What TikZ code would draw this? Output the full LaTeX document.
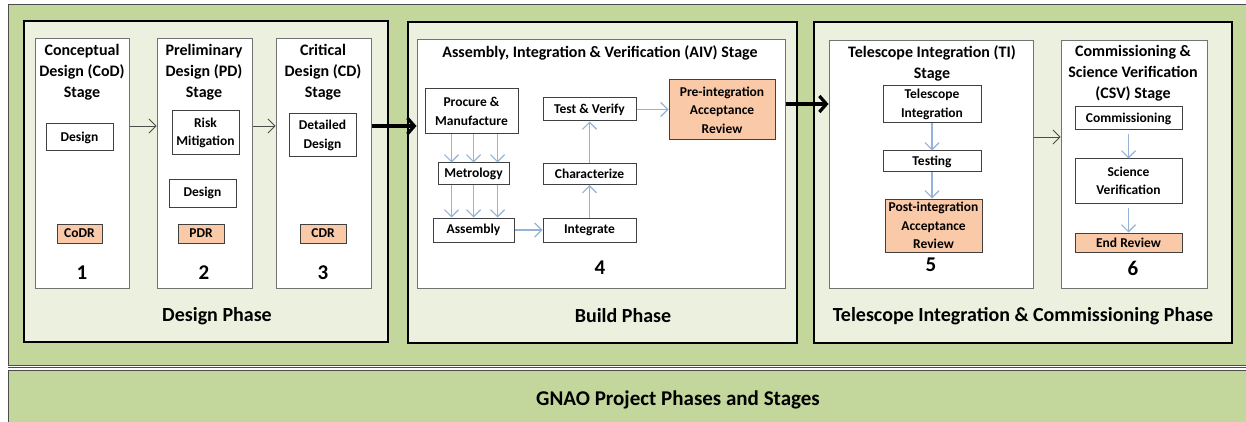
\documentclass[tikz,border=0pt]{standalone}
\usepackage{fontspec}
\setmainfont{Carlito}
\usetikzlibrary{arrows.meta}
\definecolor{bandgreen}{HTML}{C3D69B}
\definecolor{phasefill}{HTML}{EBF1DE}
\definecolor{reviewfill}{HTML}{FAC9A8}
\definecolor{flowblue}{HTML}{95B3D7}
\newcommand{\tasksize}{\fontsize{13.5}{18.5}\selectfont\bfseries}
\newcommand{\stagesize}{\fontsize{16}{21}\selectfont\bfseries}
\newcommand{\phasesize}{\fontsize{20}{24}\selectfont\bfseries}
\newcommand{\numsize}{\fontsize{21}{25}\selectfont\bfseries}
\begin{document}
\begin{tikzpicture}[x=1pt,y=-1pt,%
% common options for the phase frames:
phase/.style = {draw, line width=1.6pt, fill=phasefill, inner sep=0},
% common options for the stage columns:
stage/.style = {draw=black!55, line width=1pt, fill=white, inner sep=0},
% boxes inside a stage, reviews in orange:
task/.style = {draw=black!75, line width=1pt, fill=white, align=center,
            inner sep=0, font=\tasksize},
review/.style = {task, fill=reviewfill},
title/.style = {align=center, inner sep=0, font=\stagesize},
phaselbl/.style = {inner sep=0, font=\phasesize},
bignum/.style = {inner sep=0, font=\numsize},
% arrows:
flow/.style = {draw=flowblue, line width=1.2pt, -{Straight Barb[length=7pt,width=14pt]}},
stepto/.style = {draw=black!70, line width=0.8pt, -{Straight Barb[length=7pt,width=14pt]}},
bigto/.style = {draw=black, line width=3.2pt, -{Straight Barb[length=7pt,width=16pt]}}]
\useasboundingbox (0,0) rectangle (1246,422);
% green backdrop and bottom band
\draw[fill=bandgreen, draw=black!70, line width=1pt] (8,5) rectangle (1252,365);
\draw[fill=bandgreen, draw=black!70, line width=1pt] (8,370) rectangle (1252,430);
\draw[black!70, line width=0.8pt] (8,367.5) -- (1252,367.5);
\node[bignum] (project) at (678,400) {GNAO Project Phases and Stages};
% phases
\node[phase, minimum width=364pt, minimum height=321pt] (design) at (206,181.5) {};
\node[phase, minimum width=389pt, minimum height=321pt] (build) at (602.5,182.5) {};
\node[phase, minimum width=418pt, minimum height=321pt] (tic) at (1023,182.5) {};
\node[phaselbl] (designlbl) at (217,316) {Design Phase};
\node[phaselbl] (buildlbl) at (623,316) {Build Phase};
\node[phaselbl] (ticlbl) at (1023,316) {Telescope Integration \& Commissioning Phase};
% stages
\node[stage, minimum width=94pt, minimum height=249pt] (cod) at (82,163.5) {};
\node[stage, minimum width=95pt, minimum height=249pt] (pd) at (204.5,163.5) {};
\node[stage, minimum width=95pt, minimum height=249pt] (cd) at (323.5,163.5) {};
\node[stage, minimum width=368pt, minimum height=248pt] (aiv) at (601,164) {};
\node[stage, minimum width=204pt, minimum height=247pt] (ti) at (931,164.5) {};
\node[stage, minimum width=146pt, minimum height=247pt] (csv) at (1134,164.5) {};
\node[title] (codtitle) at (82,72) {Conceptual\\Design (CoD)\\Stage};
\node[title] (pdtitle) at (204,72) {Preliminary\\Design (PD)\\Stage};
\node[title] (cdtitle) at (323,72) {Critical\\Design (CD)\\Stage};
\node[title] (aivtitle) at (600,53) {Assembly, Integration \& Verification (AIV) Stage};
\node[title] (tititle) at (932,63) {Telescope Integration (TI)\\Stage};
\node[title] (csvtitle) at (1133,73) {Commissioning \&\\Science Verification\\(CSV) Stage};
\node[bignum] (num1) at (82,273) {1};
\node[bignum] (num2) at (204,273) {2};
\node[bignum] (num3) at (323,273) {3};
\node[bignum] (num4) at (600,268) {4};
\node[bignum] (num5) at (931,265) {5};
\node[bignum] (num6) at (1133,268) {6};
% design phase boxes
\node[task, minimum width=67pt, minimum height=27pt] (coddesign) at (79.5,137.5) {Design};
\node[task, minimum width=67pt, minimum height=44pt] (risk) at (205.5,133) {Risk\\Mitigation};
\node[task, minimum width=67pt, minimum height=28pt] (pddesign) at (202.5,193) {Design};
\node[task, minimum width=67pt, minimum height=43pt] (detailed) at (322.5,135.5) {Detailed\\Design};
\node[review, minimum width=45pt, minimum height=19pt] (codr) at (79.5,233.5) {CoDR};
\node[review, minimum width=46pt, minimum height=19pt] (pdr) at (201,233.5) {PDR};
\node[review, minimum width=46pt, minimum height=19pt] (cdr) at (323,233.5) {CDR};
% build phase boxes
\node[task, minimum width=93pt, minimum height=45pt] (procure) at (471.5,111.5) {Procure \&\\Manufacture};
\node[task, minimum width=71pt, minimum height=21pt] (metrology) at (473.5,173.5) {Metrology};
\node[task, minimum width=81pt, minimum height=24pt] (assembly) at (473.5,230) {Assembly};
\node[task, minimum width=93pt, minimum height=24pt] (integrate) at (589.5,230) {Integrate};
\node[task, minimum width=93pt, minimum height=21pt] (characterize) at (589.5,174) {Characterize};
\node[task, minimum width=93pt, minimum height=23pt] (testverify) at (589.5,109.5) {Test \& Verify};
\node[review, minimum width=106pt, minimum height=60pt] (preaccept) at (722,110) {Pre-integration\\Acceptance\\Review};
% integration and commissioning boxes
\node[task, minimum width=98pt, minimum height=37pt] (teleint) at (932,104.5) {Telescope\\Integration};
\node[task, minimum width=98pt, minimum height=21pt] (testing) at (932,161.5) {Testing};
\node[review, minimum width=97pt, minimum height=53pt] (postaccept) at (933.5,225.5) {Post-integration\\Acceptance\\Review};
\node[task, minimum width=107pt, minimum height=23pt] (commission) at (1128.5,118.5) {Commissioning};
\node[task, minimum width=107pt, minimum height=44pt] (sciver) at (1128.5,181) {Science\\Verification};
\node[review, minimum width=107pt, minimum height=19pt] (endreview) at (1128.5,242.5) {End Review};
% stage to stage
\draw[stepto] ([yshift=37.5pt]cod.east) -- ([yshift=37.5pt]pd.west);
\draw[stepto] ([yshift=37.5pt]pd.east) -- ([yshift=37.5pt]cd.west);
\draw[bigto] ([yshift=37.5pt]cd.east) -- ([yshift=38pt]aiv.west);
\draw[bigto] ([yshift=60pt]aiv.east) -- ([yshift=60.5pt]ti.west);
\draw[stepto] ([yshift=27.5pt]ti.east) -- ([yshift=27.5pt]csv.west);
% flow inside the stages
\foreach \dx in {-22,0,24} {
  \draw[flow] ([xshift=\dx pt]metrology.north |- procure.south) -- ([xshift=\dx pt]metrology.north);
  \draw[flow] ([xshift=\dx pt]assembly.north |- metrology.south) -- ([xshift=\dx pt]assembly.north);
}
\draw[flow] (assembly) -- (integrate);
\draw[flow] (integrate) -- (characterize);
\draw[flow] (characterize) -- (testverify);
\draw[flow] (testverify) -- (testverify -| preaccept.west);
\draw[flow] (teleint) -- (testing);
\draw[flow] (testing) -- (postaccept.north -| testing);
\draw[flow, shorten <=4pt] (commission) -- (sciver);
\draw[flow, shorten <=4pt] (sciver) -- (endreview);
\end{tikzpicture}
\end{document}
